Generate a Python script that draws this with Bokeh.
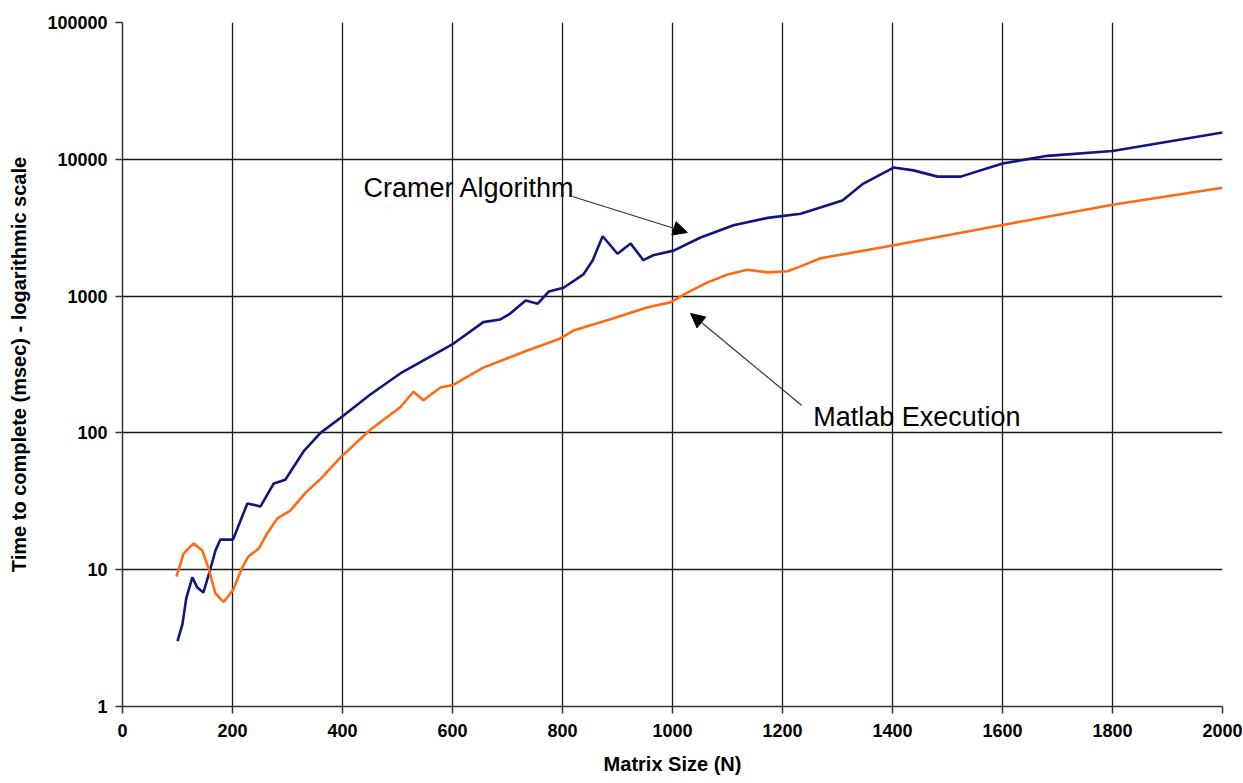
from bokeh.plotting import figure
from bokeh.models import Range1d, FixedTicker, PrintfTickFormatter, Arrow, NormalHead, ColumnDataSource
from bokeh.core.properties import value
from bokeh.embed import file_html
from bokeh.resources import INLINE

# ---- data ----
cramer_n = [100, 109, 116, 127, 136, 147, 160, 169, 178, 201, 227, 251, 275, 296, 330, 360,
            402, 450, 505, 602, 656, 687, 705, 733, 755, 775, 802, 838, 855, 873, 900, 924,
            947, 965, 1002, 1051, 1111, 1173, 1233, 1309, 1347, 1402, 1438, 1482, 1524,
            1600, 1682, 1800, 2000]
cramer_t = [3.0, 4.0, 6.2, 8.8, 7.4, 6.8, 10.2, 13.8, 16.6, 16.6, 30.5, 29, 42.7, 45.5, 74, 100,
            134, 190, 272, 450, 645, 675, 745, 930, 880, 1080, 1150, 1440, 1830, 2740, 2040, 2420,
            1830, 1990, 2150, 2680, 3300, 3730, 4000, 5000, 6650, 8700, 8300, 7470, 7470,
            9330, 10600, 11500, 15700]

matlab_n = [98, 111, 129, 145, 156, 169, 184, 201, 218, 229, 248, 263, 281, 305, 333, 360,
            396, 450, 505, 529, 547, 578, 602, 656, 729, 796, 820, 893, 955, 996, 1027, 1064,
            1100, 1136, 1173, 1209, 1233, 1269, 1400, 1600, 1800, 2000]
matlab_t = [8.9, 13.1, 15.6, 13.8, 10.4, 6.7, 5.8, 7.1, 10.4, 12.5, 14.3, 18.4, 23.6, 27, 36.6, 46,
            66, 105, 154, 200, 173, 215, 225, 300, 390, 490, 560, 690, 830, 900, 1060, 1260,
            1440, 1560, 1490, 1520, 1650, 1890, 2340, 3310, 4660, 6200]

x_ticks = [0, 200, 400, 600, 800, 1000, 1200, 1400, 1600, 1800, 2000]
y_ticks = [1, 10, 100, 1000, 10000, 100000]
y_grid = [10, 100, 1000, 10000]

labels = ["Cramer Algorithm", "Matlab Execution"]
label_n = [438, 1256]
label_t = [6220, 130]
arrow_start_n = [818, 1235]
arrow_start_t = [5346, 158.6]
arrow_end_n = [1027, 1033]
arrow_end_t = [2917, 746]

# ---- figure ----
p = figure(width=1243, height=783, y_axis_type="log",
           x_range=Range1d(0, 2000), y_range=Range1d(1, 100000),
           output_backend="svg", toolbar_location=None,
           min_border_left=122, min_border_right=21, min_border_top=22, min_border_bottom=77)
p.outline_line_color = None
p.background_fill_color = "white"
p.border_fill_color = "white"

tick_font = "'Liberation Sans Narrow', 'Liberation Sans'"
for ax in (p.xaxis[0], p.yaxis[0]):
    ax.axis_line_color = "#333333"
    ax.axis_line_width = 1.5
    ax.major_tick_line_color = "#333333"
    ax.major_tick_line_width = 1.5
    ax.major_tick_out = 7
    ax.major_tick_in = 0
    ax.minor_tick_line_color = None
    ax.major_label_text_font = tick_font
    ax.major_label_text_font_style = "bold"
    ax.major_label_text_font_size = "18px"
    ax.major_label_text_color = "black"
    ax.axis_label_text_font = "Liberation Sans"
    ax.axis_label_text_font_style = "bold"
    ax.axis_label_text_font_size = "20px"
    ax.axis_label_text_color = "black"

p.xaxis.ticker = FixedTicker(ticks=x_ticks)
p.yaxis.ticker = FixedTicker(ticks=y_ticks)
p.yaxis.formatter = PrintfTickFormatter(format="%d")
p.xaxis.major_label_standoff = 10
p.yaxis.major_label_standoff = 8
p.xaxis.axis_label = "Matrix Size (N)"
p.yaxis.axis_label = "Time to complete (msec) - logarithmic scale"
p.xaxis.axis_label_standoff = 13
p.yaxis.axis_label_standoff = 14

p.xgrid.ticker = FixedTicker(ticks=x_ticks)
p.ygrid.ticker = FixedTicker(ticks=y_grid)
for g in (p.xgrid[0], p.ygrid[0]):
    g.grid_line_color = "#1a1a1a"
    g.grid_line_width = 1.3
    g.grid_line_alpha = 1.0

p.line(cramer_n, cramer_t, line_color="#14147f", line_width=2.6)
p.line(matlab_n, matlab_t, line_color="#ff6a13", line_width=2.6)

src = ColumnDataSource(dict(x=label_n, y=label_t, text=labels))
p.text(x="x", y="y", text="text", source=src, text_font=value("Liberation Sans"),
       text_font_size="27px", text_color="black", text_baseline="alphabetic", text_align="left")

for i in range(len(labels)):
    p.add_layout(Arrow(end=NormalHead(size=14, fill_color="black", line_color="black"),
                       x_start=arrow_start_n[i], y_start=arrow_start_t[i],
                       x_end=arrow_end_n[i], y_end=arrow_end_t[i],
                       line_color="#333333", line_width=1.2))

open("out.html", "w").write(file_html(p, INLINE))
